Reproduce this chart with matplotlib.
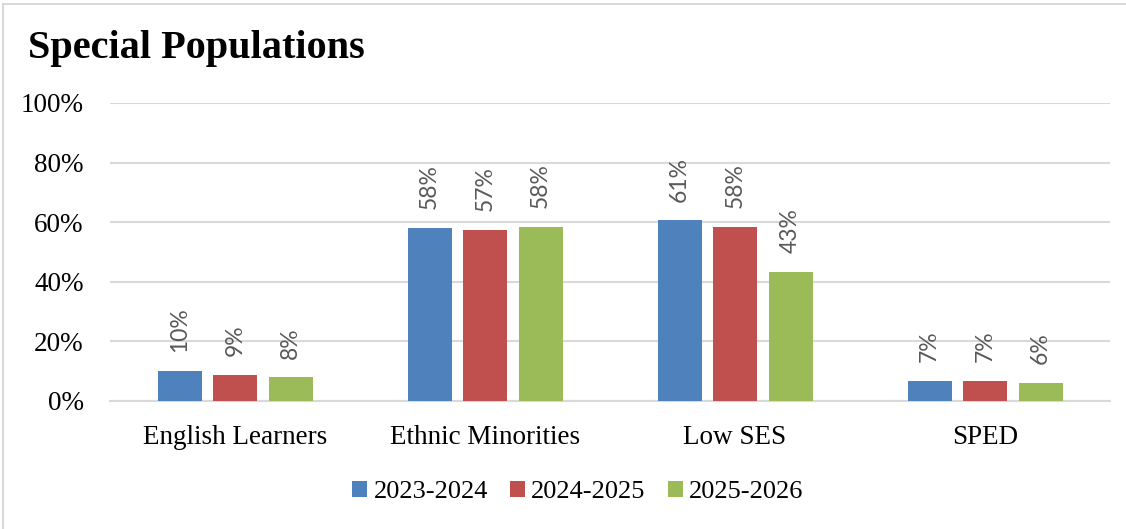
import numpy as np
import matplotlib
matplotlib.use("Agg")
import matplotlib.pyplot as plt
from matplotlib.patches import Rectangle

categories = ["English Learners", "Ethnic Minorities", "Low SES", "SPED"]
years = ["2023-2024", "2024-2025", "2025-2026"]
vals_2324 = [0.101, 0.581, 0.606, 0.067]
vals_2425 = [0.087, 0.574, 0.584, 0.067]
vals_2526 = [0.079, 0.584, 0.433, 0.060]
colors = ["#4f81bd", "#c0504d", "#9bbb59"]
yticks = [0, 0.2, 0.4, 0.6, 0.8, 1.0]

serif = ["Liberation Serif", "DejaVu Serif"]
grid_c = "#d9d9d9"

fig = plt.figure(figsize=(11.26, 5.29), dpi=100)
W, H = 1126, 529

# outer frame of the chart box (right and bottom edges run off the page)
fig.patches.append(Rectangle((3 / W, -0.2), 1.2, 1.2 - 4 / H, transform=fig.transFigure,
                             fill=False, edgecolor=grid_c, linewidth=1.5))

ax = fig.add_axes([110 / W, (H - 401) / H, 1000 / W, 298 / H])
x = np.arange(len(categories))
step = 0.222
width = 0.176
series = [vals_2324, vals_2425, vals_2526]
for i, (vals, col, lab) in enumerate(zip(series, colors, years)):
    pos = x + (i - 1) * step
    ax.bar(pos, vals, width, color=col, label=lab, zorder=3)
    for px, v in zip(pos, vals):
        ax.annotate(f"{round(v * 100):.0f}%", (px, v), xytext=(0, 13.5),
                    textcoords="offset points", rotation=90, ha="center", va="bottom",
                    fontsize=16.5, color="#595959", family=["Lato", "DejaVu Sans"])

ax.set_xlim(-0.5, len(categories) - 0.5)
ax.set_ylim(0, 1.0)
ax.set_yticks(yticks)
ax.set_yticklabels([f"{int(t * 100)}%" for t in yticks], fontsize=19.5, family=serif)
ax.set_xticks(x)
ax.set_xticklabels(categories, fontsize=19.5, family=serif)
ax.tick_params(length=0)
ax.tick_params(axis="y", pad=19)
ax.tick_params(axis="x", pad=17)
ax.grid(axis="y", color=grid_c, linewidth=1.5, zorder=0)
for s in ["top", "right", "left"]:
    ax.spines[s].set_visible(False)
ax.spines["bottom"].set_color(grid_c)
ax.spines["bottom"].set_linewidth(1.5)

fig.text(28 / W, 1 - 58 / H, "Special Populations", fontsize=29, fontweight="bold",
         family=serif, ha="left", va="baseline")

leg = fig.legend(loc="center", bbox_to_anchor=(578 / W, 1 - 492 / H), ncol=3, frameon=False,
                 prop={"family": serif, "size": 19}, handlelength=0.55, handleheight=0.55,
                 handletextpad=0.25, columnspacing=0.85)

fig.savefig("out.png", dpi=100)
